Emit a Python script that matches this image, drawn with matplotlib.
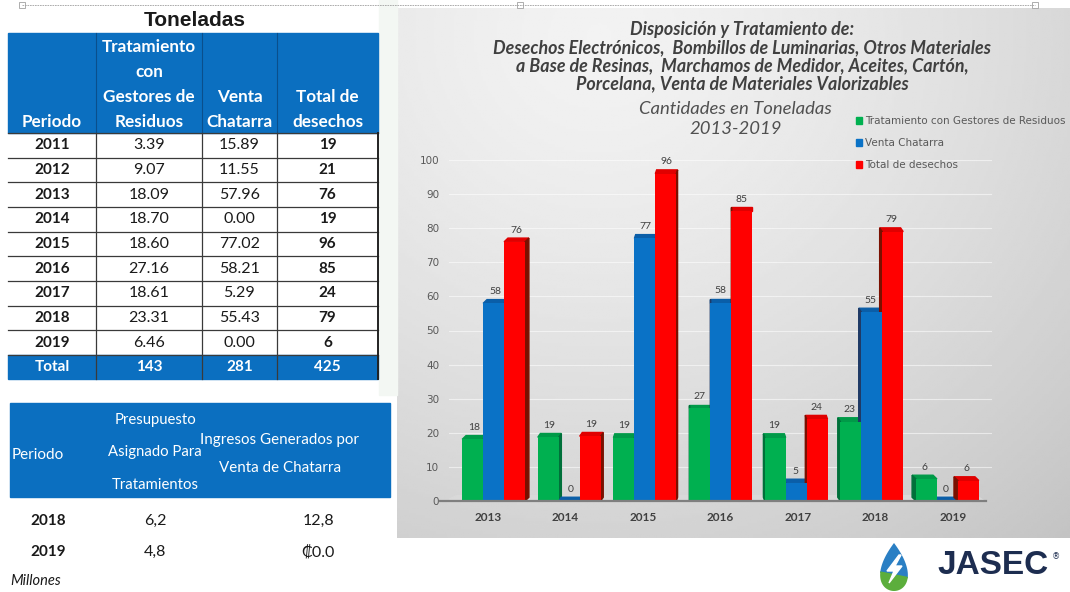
import numpy as np
import matplotlib
matplotlib.use("Agg")
import matplotlib.pyplot as plt
from matplotlib.patches import Rectangle, Polygon, Patch
from matplotlib import font_manager

# ---------------------------------------------------------------------------
# Data
# ---------------------------------------------------------------------------
periodos = [2011, 2012, 2013, 2014, 2015, 2016, 2017, 2018, 2019]
tratamiento = [3.39, 9.07, 18.09, 18.70, 18.60, 27.16, 18.61, 23.31, 6.46]
venta = [15.89, 11.55, 57.96, 0.00, 77.02, 58.21, 5.29, 55.43, 0.00]
total_desechos = [19, 21, 76, 19, 96, 85, 24, 79, 6]
totales = ["143", "281", "425"]

presup_periodos = ["2018", "2019"]
presupuesto = ["6,2", "4,8"]
ingresos = ["12,8", "₡0.0"]

chart_years = periodos[2:]
serie_verde = tratamiento[2:]
serie_azul = venta[2:]
serie_roja = total_desechos[2:]
series_names = ["Tratamiento con Gestores de Residuos", "Venta Chatarra", "Total de desechos"]

# ---------------------------------------------------------------------------
# Styles
# ---------------------------------------------------------------------------
avail = {f.name for f in font_manager.fontManager.ttflist}
NARROW = "Liberation Sans Narrow" if "Liberation Sans Narrow" in avail else "Lato"
BODY = "Lato"
HDR = "#0b6fc0"
TXT = "#1a1a1a"
GREEN, BLUE, RED = "#00b050", "#0a72c6", "#ff0000"
GREEN_D, BLUE_D, RED_D = "#00703a", "#1f3a66", "#7a1000"
GREEN_T, BLUE_T, RED_T = "#009a48", "#0a5ea8", "#e00000"

fig = plt.figure(figsize=(10.7, 5.92), dpi=100)
bg = fig.add_axes([0, 0, 1, 1])
bg.set_xlim(0, 1070)
bg.set_ylim(592, 0)
bg.axis("off")

# chart panel gradient
h, w = 200, 300
u = np.linspace(0, 1, w)[None, :]
v = np.linspace(0, 1, h)[:, None]
r = np.sqrt(((u - 0.3) / 1.0) ** 2 + ((v - 0.05) / 1.2) ** 2)
grad = np.clip(0.95 - 0.17 * r ** 1.4, 0, 1)
bg.imshow(grad, extent=(397, 1070, 538, 8), cmap="gray", vmin=0, vmax=1,
          aspect="auto", zorder=0)
bg.add_patch(Rectangle((379, 0), 18, 395, color="#f3f7f3", zorder=0))

# selection frame line at the very top
bg.plot([22, 1035], [5, 5], color="#a0a0a0", lw=0.6, ls=(0, (2, 1)))
for hx in (22, 520, 1035):
    bg.add_patch(Rectangle((hx - 3, 2), 6, 6, fc="white", ec="#a0a0a0", lw=0.6))

# ---------------------------------------------------------------------------
# Table 1 (Toneladas)
# ---------------------------------------------------------------------------
col_edges = [8, 96, 202, 277, 378]
col_cx = [(a + b) / 2 for a, b in zip(col_edges[:-1], col_edges[1:])]
hdr_top, hdr_bot = 33, 133
row_h = (355 - hdr_bot) / len(periodos)
tot_top, tot_bot = 355, 379

bg.text(195, 20, "Toneladas", ha="center", va="center", fontsize=15,
        fontweight="bold", family="Liberation Sans", color=TXT)
bg.add_patch(Rectangle((8, hdr_top), 370, hdr_bot - hdr_top, color=HDR))
bg.add_patch(Rectangle((8, tot_top), 370, tot_bot - tot_top, color=HDR))
for xe in col_edges[1:-1]:
    bg.plot([xe, xe], [hdr_top, hdr_bot], color="#0a4f8c", lw=0.8)

hdr_lines = [
    [(122, "Periodo")],
    [(47, "Tratamiento"), (72, "con"), (97, "Gestores de"), (122, "Residuos")],
    [(97, "Venta"), (122, "Chatarra")],
    [(97, "Total de"), (122, "desechos")],
]
for cx, lines in zip(col_cx, hdr_lines):
    for yy, s in lines:
        bg.text(cx, yy, s, ha="center", va="center", color="white",
                fontsize=12.3, fontweight="bold", family=BODY)

for k in range(len(periodos) + 1):
    yy = hdr_bot + k * row_h
    bg.plot([8, 378], [yy, yy], color="#3a3a3a", lw=0.9)
for xe in col_edges[1:-1]:
    bg.plot([xe, xe], [hdr_bot, tot_bot], color="#3a3a3a", lw=0.9)
bg.plot([378, 378], [hdr_bot, tot_bot], color="#222222", lw=1.4)

for i, (p, t, vv, tt) in enumerate(zip(periodos, tratamiento, venta, total_desechos)):
    yy = hdr_bot + (i + 0.5) * row_h
    bg.text(col_cx[0], yy, str(p), ha="center", va="center", fontsize=11,
            fontweight="bold", family=BODY, color=TXT)
    bg.text(col_cx[1], yy, f"{t:.2f}", ha="center", va="center", fontsize=11.5,
            family=BODY, color=TXT)
    bg.text(col_cx[2], yy, f"{vv:.2f}", ha="center", va="center", fontsize=11.5,
            family=BODY, color=TXT)
    bg.text(col_cx[3], yy, str(tt), ha="center", va="center", fontsize=11,
            fontweight="bold", family=BODY, color=TXT)

ty = (tot_top + tot_bot) / 2
bg.text(col_cx[0], ty, "Total", ha="center", va="center", fontsize=11,
        fontweight="bold", family=BODY, color="white")
for cx, s in zip(col_cx[1:], totales):
    bg.text(cx, ty, s, ha="center", va="center", fontsize=11,
            fontweight="bold", family=BODY, color="white")

# ---------------------------------------------------------------------------
# Table 2 (Millones)
# ---------------------------------------------------------------------------
bg.add_patch(Rectangle((10, 403), 380, 94, color=HDR))
bg.text(12, 455, "Periodo", ha="left", va="center", color="white",
        fontsize=11, family=NARROW)
for yy, s in [(420, "Presupuesto"), (452, "Asignado Para"), (485, "Tratamientos")]:
    bg.text(155, yy, s, ha="center", va="center", color="white", fontsize=10.7,
            family=NARROW)
for yy, s in [(440, "Ingresos Generados por"), (468, "Venta de Chatarra")]:
    bg.text(280, yy, s, ha="center", va="center", color="white", fontsize=10.9,
            family=NARROW)
for i, (p, pr, ing) in enumerate(zip(presup_periodos, presupuesto, ingresos)):
    yy = 521 + i * 31
    bg.text(48, yy, p, ha="center", va="center", fontsize=11, fontweight="bold",
            family=NARROW, color=TXT)
    bg.text(155, yy, pr, ha="center", va="center", fontsize=11.5,
            family=NARROW, color=TXT)
    bg.text(318, yy, ing, ha="center", va="center", fontsize=11.5,
            family=[NARROW, "DejaVu Sans"], color=TXT)
bg.text(10, 581, "Millones", ha="left", va="center", fontsize=10.5, style="italic",
        family=NARROW, color=TXT)

# ---------------------------------------------------------------------------
# Chart
# ---------------------------------------------------------------------------
title_lines = [
    (30, "Disposición y Tratamiento de:"),
    (48, "Desechos Electrónicos,  Bombillos de Luminarias, Otros Materiales"),
    (66, "a Base de Resinas,  Marchamos de Medidor, Aceites, Cartón,"),
    (84, "Porcelana, Venta de Materiales Valorizables"),
]
for yy, s in title_lines:
    fig.text(742 / 1070, 1 - yy / 592, s, ha="center", va="center", fontsize=12.9,
             fontweight="bold", style="italic", family=BODY, color="#404040")
fig.text(735 / 1070, 1 - 109 / 592, "Cantidades en Toneladas", ha="center",
         va="center", fontsize=13.3, style="italic", family=BODY, color="#505050")
fig.text(736 / 1070, 1 - 129 / 592, "2013-2019", ha="center", va="center",
         fontsize=13.3, style="italic", family=BODY, color="#505050")

ax = fig.add_axes([449 / 1070, 1 - 501 / 592, 543 / 1070, 341 / 592])
ax.patch.set_alpha(0)
ax.set_xlim(-0.5, 6.5)
ax.set_ylim(0, 100)
for sp in ax.spines.values():
    sp.set_visible(False)

for yv in range(10, 101, 10):
    ax.axhline(yv, color="white", alpha=0.55, lw=0.8, zorder=0.5)

ax.add_patch(Polygon([(-0.55, 0), (6.4, 0), (6.3, 1.6), (-0.4, 1.6)],
                     closed=True, color="#d9d9d9", zorder=1))
ax.plot([-0.62, 6.42], [0, 0], color="#7f7f7f", lw=1.6, clip_on=False, zorder=4)

bw = 0.27
offsets = [-0.27, 0.0, 0.27]
dy = 1.1
series = [
    (serie_verde, GREEN, GREEN_D, GREEN_T),
    (serie_azul, BLUE, BLUE_D, BLUE_T),
    (serie_roja, RED, RED_D, RED_T),
]
xs = np.arange(len(chart_years))
for j, (vals, c, cd, ct) in enumerate(series):
    for i, val in enumerate(vals):
        persp = (3 - i) / 3
        x = xs[i] + offsets[j] + 0.075 * persp
        dx = 0.05 * persp
        x0, x1 = x - bw / 2, x + bw / 2
        ax.bar(x, val, width=bw, color=c, zorder=3)
        ax.add_patch(Polygon([(x0, val), (x1, val), (x1 + dx, val + dy),
                              (x0 + dx, val + dy)], closed=True, color=ct,
                             zorder=2))
        if dx > 0:
            side = [(x1, 0), (x1 + dx, dy), (x1 + dx, val + dy), (x1, val)]
        else:
            side = [(x0, 0), (x0 + dx, dy), (x0 + dx, val + dy), (x0, val)]
        ax.add_patch(Polygon(side, closed=True, color=cd, zorder=2))
        ax.text(x + dx / 2, val + dy + 1.0, f"{val:.0f}", ha="center", va="bottom",
                fontsize=7.5, color="#404040", family=BODY, zorder=5)

ax.set_yticks(range(0, 101, 10))
ax.set_xticks(xs)
ax.set_xticklabels([str(y) for y in chart_years])
ax.tick_params(axis="y", length=0, pad=7, labelsize=7.5, labelcolor="#595959")
ax.tick_params(axis="x", length=0, pad=8, labelsize=8.5, labelcolor="#404040")
for lab in ax.get_xticklabels():
    lab.set_fontweight("bold")
    lab.set_family(BODY)

handles = [Patch(color=GREEN), Patch(color=BLUE), Patch(color=RED)]
fig.legend(handles, series_names, loc="upper left",
           bbox_to_anchor=(856 / 1070, 1 - 116 / 592), frameon=False,
           fontsize=7.5, handlelength=0.6, handleheight=0.7, handletextpad=0.3,
           labelspacing=1.15, labelcolor="#595959", borderaxespad=0, borderpad=0)

# ---------------------------------------------------------------------------
# JASEC logo
# ---------------------------------------------------------------------------
t = np.linspace(0, 2 * np.pi, 200)
cx, cy = 894, 567
drop_x = cx + 18 * np.sin(t) * np.sin(t / 2)
drop_y = cy - 24 * np.cos(t)
drop = Polygon(np.column_stack([drop_x, drop_y]), closed=True, fc="none", ec="none")
bg.add_patch(drop)
blue_part = Polygon([(860, 530), (930, 530), (930, 582), (860, 568)], closed=True,
                    color="#2a7fc4", zorder=3)
green_part = Polygon([(860, 568), (930, 582), (930, 600), (860, 600)], closed=True,
                     color="#5cae3c", zorder=3)
for part in (blue_part, green_part):
    bg.add_patch(part)
    part.set_clip_path(drop)
bolt = Polygon([(899, 555), (887, 571), (894, 571), (889, 583), (902, 566),
                (895, 566), (901, 555)], closed=True, color="white", zorder=4)
bg.add_patch(bolt)
bg.text(937, 565, "JASEC", ha="left", va="center", fontsize=24, fontweight="bold",
        family="Liberation Sans", color="#1d2d50")
bg.text(1052, 557, "®", ha="left", va="center", fontsize=6, color="#1d2d50")

fig.savefig("out.png", dpi=100)
